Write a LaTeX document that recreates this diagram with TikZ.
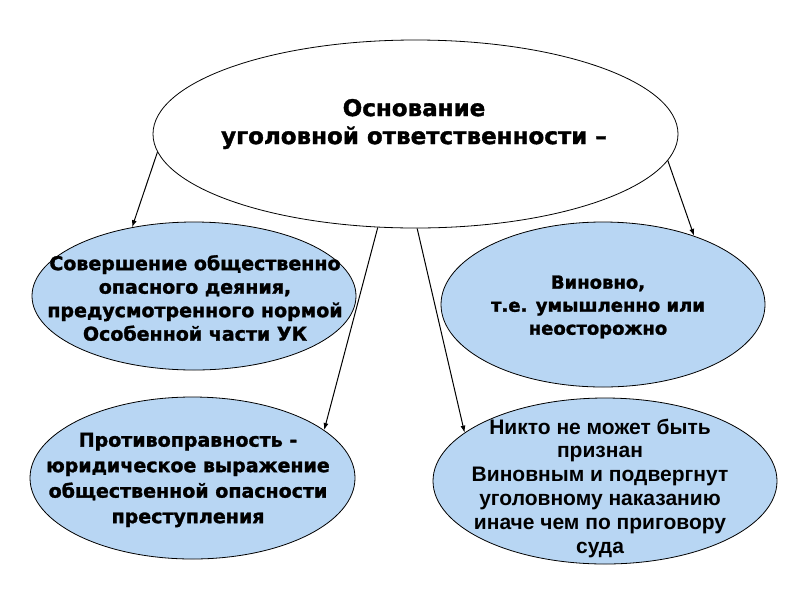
\documentclass[tikz,border=0pt]{standalone}
\usepackage{fontspec}
\usetikzlibrary{shapes.geometric,arrows.meta}
\newfontfamily\wideb{DejaVu Sans}[BoldFeatures={FakeBold=1.5}]
\newfontfamily\arialb{Liberation Sans}
\definecolor{lblue}{RGB}{184,214,243}

\begin{document}
\begin{tikzpicture}[x=1pt,y=-1pt,
  oval/.style={ellipse,draw=black,line width=0.8pt,inner sep=0pt},
  boval/.style={oval,fill=lblue},
  txt/.style={align=center,font=\wideb\bfseries},
  arr/.style={-{Latex[length=7pt,width=5pt]},line width=1pt}]
\tikzstyle{every node}+=[inner sep=0pt]
\useasboundingbox (0,0) rectangle (794,595);
% ovals
\node [oval,minimum width=525,minimum height=188] (osn) at (415.5,134) {};
\node [boval,minimum width=324,minimum height=148] (dei) at (194,296) {};
\node [boval,minimum width=324,minimum height=165] (vin) at (603,304.5) {};
\node [boval,minimum width=325,minimum height=162] (prot) at (192.5,478) {};
\node [boval,minimum width=344,minimum height=166] (sud) at (605,481) {};
% texts
\node [txt,font=\wideb\bfseries\fontsize{23}{28}\selectfont] (osnt) at (414,124)
  {Основание\\уголовной ответственности –};
\node [txt,font=\wideb\bfseries\fontsize{19}{23.5}\selectfont] (deit) at (195,298)
  {Совершение общественно\\опасного деяния,\\предусмотренного нормой\\Особенной части УК};
\node [txt,font=\wideb\bfseries\fontsize{18}{23}\selectfont] (vint) at (598,307)
  {Виновно,\\т.е. умышленно или\\неосторожно};
\node [txt,font=\wideb\bfseries\fontsize{19}{25.5}\selectfont] (prott) at (188,480)
  {Противоправность -\\юридическое выражение\\общественной опасности\\преступления};
\node [txt,font=\arialb\bfseries\fontsize{21}{23.8}\selectfont] (sudt) at (600,488)
  {Никто не может быть\\признан\\Виновным и подвергнут\\уголовному наказанию\\иначе чем по приговору\\суда};
% arrows
\draw [arr] (osn.184.3) -- (dei.132);
\draw [arr] (osn.248.2) -- (prot.20.6);
\draw [arr] (osn.271) -- (sud.161.3);
\draw [arr] (osn.354.2) -- (vin.37.3);
\end{tikzpicture}
\end{document}
